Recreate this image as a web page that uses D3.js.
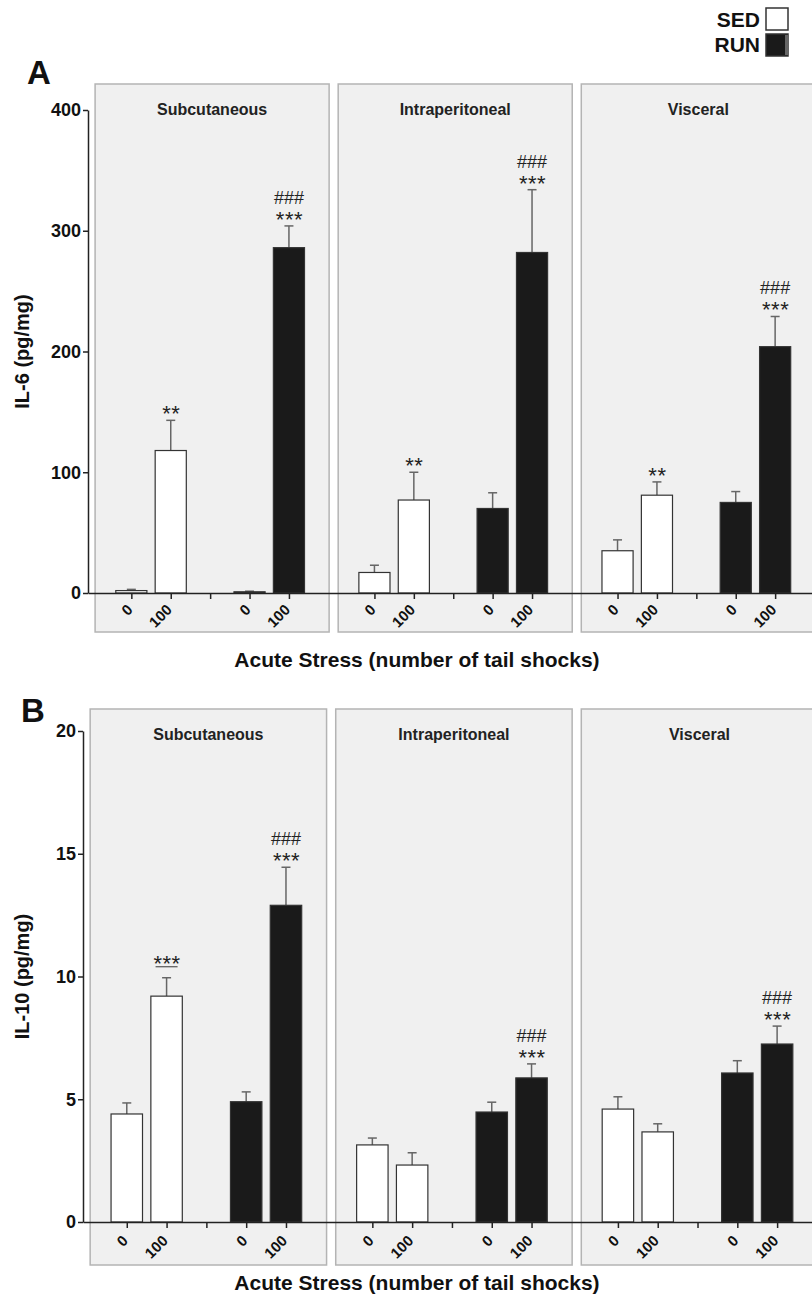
<!DOCTYPE html>
<html>
<head>
<meta charset="utf-8">
<script src="https://cdn.jsdelivr.net/npm/d3@7"></script>
<style>
body { margin: 0; background: #fff; }
text { font-family: "Liberation Sans", Arial, sans-serif; }
</style>
</head>
<body>
<div id="chart"></div>
<script>
// data
var regions = ["Subcutaneous", "Intraperitoneal", "Visceral"];
var groups = ["SED", "SED", "RUN", "RUN"];
var shockLabels = ["0", "100", "", "0", "100"];

var il6Mean = [[2, 118, 1, 286], [17, 77, 70, 282], [35, 81, 75, 204]];
var il6Sem = [[1, 25, 0.5, 18], [6, 23, 13, 52], [9, 11, 9, 25]];
var il6Stars = [["", "**", "", "***"], ["", "**", "", "***"], ["", "**", "", "***"]];
var il6Hash = [["", "", "", "###"], ["", "", "", "###"], ["", "", "", "###"]];
var il6Ticks = [0, 100, 200, 300, 400];

var il10Mean = [[4.4, 9.2, 4.9, 12.9], [3.14, 2.32, 4.48, 5.87], [4.6, 3.67, 6.07, 7.25]];
var il10Sem = [[0.45, 0.75, 0.4, 1.55], [0.28, 0.5, 0.4, 0.57], [0.5, 0.33, 0.5, 0.73]];
var il10Stars = [["", "***", "", "***"], ["", "", "", "***"], ["", "", "", "***"]];
var il10Hash = [["", "", "", "###"], ["", "", "", "###"], ["", "", "", "###"]];
var il10Under = [[false, true, false, false], [false, false, false, false], [false, false, false, false]];
var il10Ticks = [0, 5, 10, 15, 20];

var W = 812, H = 1299;
var panelStep = 6.17;   // x units between region blocks
var firstSlot = 1.1;    // first tick offset from the y axis
var slotPos = [0, 1, 3, 4];
var barW = 0.79;

var color = d3.scaleOrdinal().domain(["SED", "RUN"]).range(["#ffffff", "#1a1a1a"]);

var svg = d3.select("#chart").append("svg")
    .attr("width", W)
    .attr("height", H);

function drawPanel(cfg) {
    var g = svg.append("g");
    var x = d3.scaleLinear().domain([0, (W - cfg.axisX) / cfg.unit]).range([cfg.axisX, W]);
    var y = d3.scaleLinear().domain([0, cfg.yTicks[cfg.yTicks.length - 1]]).range([cfg.y0, cfg.y1]);

    /*gray region boxes*/
    g.selectAll(".box")
        .data(regions)
        .join("rect")
        .attr("x", function(d, i) { return x(i * panelStep + 0.18); })
        .attr("width", x(5.94) - x(0))
        .attr("y", cfg.boxTop)
        .attr("height", cfg.boxBottom - cfg.boxTop)
        .attr("fill", "#f0f0f0")
        .attr("stroke", "#b4b4b4")
        .attr("stroke-width", 1.5);

    g.selectAll(".title")
        .data(regions)
        .join("text")
        .attr("x", function(d, i) { return x(i * panelStep + 0.18 + 2.97); })
        .attr("y", cfg.boxTop + 31)
        .attr("text-anchor", "middle")
        .attr("font-weight", "bold")
        .attr("font-size", 16)
        .attr("fill", "#222")
        .text(function(d) { return d; });

    var rows = [];
    regions.forEach(function(r, p) {
        cfg.means[p].forEach(function(m, s) {
            rows.push({
                pos: p * panelStep + firstSlot + slotPos[s],
                mean: m,
                sem: cfg.sems[p][s],
                star: cfg.stars[p][s],
                hash: cfg.hashes[p][s],
                under: cfg.under ? cfg.under[p][s] : false,
                grp: groups[s]
            });
        });
    });

    /*error bars (upper only)*/
    var err = g.append("g").attr("stroke", "#666").attr("stroke-width", 1.5);
    err.selectAll("line.v")
        .data(rows)
        .join("line")
        .attr("x1", function(d) { return x(d.pos); })
        .attr("x2", function(d) { return x(d.pos); })
        .attr("y1", function(d) { return y(d.mean); })
        .attr("y2", function(d) { return y(d.mean + d.sem); });
    err.selectAll("line.c")
        .data(rows)
        .join("line")
        .attr("x1", function(d) { return x(d.pos) - 4.5; })
        .attr("x2", function(d) { return x(d.pos) + 4.5; })
        .attr("y1", function(d) { return y(d.mean + d.sem); })
        .attr("y2", function(d) { return y(d.mean + d.sem); });

    /*bars*/
    g.selectAll(".bar")
        .data(rows)
        .join("rect")
        .attr("x", function(d) { return x(d.pos - barW / 2); })
        .attr("width", x(barW) - x(0))
        .attr("y", function(d) { return y(d.mean); })
        .attr("height", function(d) { return y(0) - y(d.mean); })
        .attr("fill", function(d) { return color(d.grp); })
        .attr("stroke", "#333")
        .attr("stroke-width", 1.2);

    /*annotations*/
    g.selectAll(".star")
        .data(rows.filter(function(d) { return d.star; }))
        .join("text")
        .attr("x", function(d) { return x(d.pos) + 0.5; })
        .attr("y", function(d) { return y(d.mean + d.sem) + (d.under ? -7 : 1); })
        .attr("text-anchor", "middle")
        .attr("font-size", 22)
        .attr("letter-spacing", 0.5)
        .attr("fill", "#222")
        .text(function(d) { return d.star; });
    g.selectAll(".hash")
        .data(rows.filter(function(d) { return d.hash; }))
        .join("text")
        .attr("x", function(d) { return x(d.pos); })
        .attr("y", function(d) { return y(d.mean + d.sem) - 22; })
        .attr("text-anchor", "middle")
        .attr("font-size", 18)
        .attr("fill", "#222")
        .text(function(d) { return d.hash; });
    g.selectAll(".under")
        .data(rows.filter(function(d) { return d.under; }))
        .join("line")
        .attr("x1", function(d) { return x(d.pos) - 11; })
        .attr("x2", function(d) { return x(d.pos) + 11; })
        .attr("y1", function(d) { return y(d.mean + d.sem) - 11; })
        .attr("y2", function(d) { return y(d.mean + d.sem) - 11; })
        .attr("stroke", "#555")
        .attr("stroke-width", 1.2);

    /*Y axis*/
    var ya = g.append("g")
        .attr("transform", "translate(" + cfg.axisX + ",0)")
        .call(d3.axisLeft(y).tickValues(cfg.yTicks).tickSize(5).tickSizeOuter(0).tickPadding(2));
    ya.selectAll("text").attr("font-size", 18).attr("font-weight", "bold").attr("fill", "#111")
        .style("font-family", "'Liberation Sans', Arial, sans-serif");
    ya.selectAll("path, line").attr("stroke", "#222").attr("stroke-width", 1.5);

    /*X axis*/
    var tickVals = [];
    regions.forEach(function(r, p) {
        for (var s = 0; s < 5; s++) tickVals.push(p * panelStep + firstSlot + s);
    });
    var xa = g.append("g")
        .attr("transform", "translate(0," + y(0) + ")")
        .call(d3.axisBottom(x).tickValues(tickVals).tickSize(6).tickSizeOuter(0)
            .tickFormat(function(d, i) { return shockLabels[i % 5]; }));
    xa.selectAll("path, line").attr("stroke", "#222").attr("stroke-width", 1.5);
    xa.selectAll("text")
        .attr("y", 0)
        .attr("dy", "0.35em")
        .attr("transform", "translate(-2," + cfg.xLabelDy + ") rotate(-45)")
        .attr("text-anchor", "end")
        .attr("font-size", 15)
        .attr("font-weight", "bold")
        .attr("fill", "#111")
        .style("font-family", "'Liberation Sans', Arial, sans-serif");

    /*axis titles and panel letter*/
    g.append("text")
        .attr("transform", "translate(" + cfg.yLabelX + "," + ((cfg.y0 + cfg.y1) / 2) + ") rotate(-90)")
        .attr("text-anchor", "middle")
        .attr("font-size", 20)
        .attr("font-weight", "bold")
        .attr("fill", "#111")
        .text(cfg.yLabel);
    g.append("text")
        .attr("x", 417)
        .attr("y", cfg.xTitleY)
        .attr("text-anchor", "middle")
        .attr("font-size", 21)
        .attr("font-weight", "bold")
        .attr("fill", "#111")
        .text("Acute Stress (number of tail shocks)");
    g.append("text")
        .attr("x", cfg.letterX)
        .attr("y", cfg.letterY)
        .attr("font-size", 33)
        .attr("font-weight", "bold")
        .attr("fill", "#111")
        .text(cfg.letter);
}

drawPanel({
    letter: "A", letterX: 27, letterY: 84,
    axisX: 88, unit: 39.4, y0: 593, y1: 110,
    boxTop: 84, boxBottom: 632,
    yTicks: il6Ticks, yLabel: "IL-6 (pg/mg)", yLabelX: 29,
    xTitleY: 667, xLabelDy: 14,
    means: il6Mean, sems: il6Sem, stars: il6Stars, hashes: il6Hash
});

drawPanel({
    letter: "B", letterX: 21, letterY: 722,
    axisX: 83, unit: 39.8, y0: 1222, y1: 731,
    boxTop: 709, boxBottom: 1265,
    yTicks: il10Ticks, yLabel: "IL-10 (pg/mg)", yLabelX: 29,
    xTitleY: 1290, xLabelDy: 16,
    means: il10Mean, sems: il10Sem, stars: il10Stars, hashes: il10Hash, under: il10Under
});

/*legend*/
var legend = svg.append("g").attr("class", "legend");
var legendKeys = ["SED", "RUN"];
legend.selectAll("text")
    .data(legendKeys)
    .join("text")
    .attr("x", 760)
    .attr("y", function(d, i) { return 27 + i * 25; })
    .attr("text-anchor", "end")
    .attr("font-size", 21)
    .attr("font-weight", "bold")
    .attr("fill", "#111")
    .text(function(d) { return d; });
legend.selectAll("rect.key")
    .data(legendKeys)
    .join("rect")
    .attr("x", 766)
    .attr("y", function(d, i) { return 8 + i * 26; })
    .attr("width", 22)
    .attr("height", 22)
    .attr("fill", function(d) { return color(d); })
    .attr("stroke", "#333")
    .attr("stroke-width", 1.5);
legend.append("rect")
    .attr("x", 785).attr("y", 35).attr("width", 3).attr("height", 20)
    .attr("fill", "#666");
</script>
</body>
</html>
